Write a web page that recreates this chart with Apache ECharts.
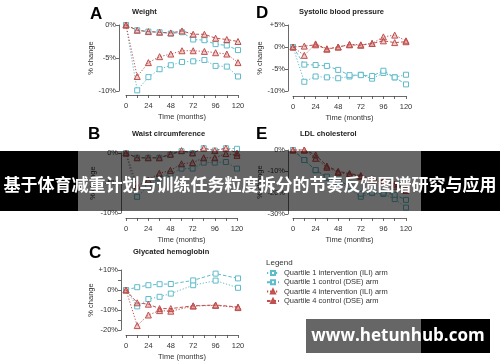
<!DOCTYPE html>
<html><head><meta charset="utf-8">
<script src="https://cdn.jsdelivr.net/npm/echarts@6/dist/echarts.min.js"></script>
<style>html,body{margin:0;padding:0;background:#fff;}#c{width:500px;height:362px;}</style>
</head><body><div id="c"></div>
<script>
// ---- data ----
const months = [0, 12, 24, 36, 48, 60, 72, 84, 96, 108, 120];
const monthsC = [0, 12, 24, 36, 48, 72, 96, 120];
const xTickLabels = [0, 24, 48, 72, 96, 120];
const seriesNames = ['Quartile 1 intervention (ILI) arm', 'Quartile 1 control (DSE) arm', 'Quartile 4 intervention (ILI) arm', 'Quartile 4 control (DSE) arm'];
const panelTitles = ['Weight', 'Systolic blood pressure', 'Waist circumference', 'LDL cholesterol', 'Glycated hemoglobin'];
const panelLetters = ['A', 'D', 'B', 'E', 'C'];

// A: Weight
const weightQ1ILI = [0, -9.9, -7.9, -6.7, -6.1, -5.6, -5.5, -5.3, -6.2, -6.3, -7.8];
const weightQ1DSE = [0, -0.8, -1.0, -1.1, -1.3, -1.1, -2.2, -2.3, -2.9, -3.1, -3.8];
const weightQ4ILI = [0, -7.8, -5.7, -4.8, -4.4, -3.9, -3.9, -4.0, -4.2, -4.4, -5.7];
const weightQ4DSE = [0, -0.8, -1.0, -1.1, -1.2, -0.9, -1.4, -1.4, -2.0, -2.2, -2.5];
// D: Systolic blood pressure
const sbpQ1ILI = [0, -7.9, -6.7, -6.9, -7.1, -6.7, -6.3, -7.2, -5.9, -6.9, -6.3];
const sbpQ1DSE = [0, -4.0, -4.1, -4.3, -5.2, -6.4, -6.4, -6.6, -5.4, -6.9, -8.5];
const sbpQ4ILI = [0, -1.9, 0.7, -0.4, 0.0, 0.6, 0.5, 0.8, 2.3, 2.7, 1.4];
const sbpQ4DSE = [0, 0.2, 0.5, -0.5, 0.0, 0.5, 0.4, 0.8, 1.4, 1.0, 1.2];
// B: Waist circumference
const waistQ1ILI = [0, -7.3, -5.5, -4.2, -3.5, -2.6, -2.6, -1.6, -1.6, -1.5, -2.6];
const waistQ1DSE = [0, -0.8, -0.8, -0.8, -0.3, 0.3, 0.0, 0.8, 0.4, 0.8, 0.7];
const waistQ4ILI = [0, -5.5, -4.5, -3.4, -2.9, -1.8, -1.6, -0.8, -0.8, -0.1, -0.4];
const waistQ4DSE = [0, -0.8, -0.8, -0.8, -0.2, 0.4, 0.0, 0.8, 0.4, 0.8, 0.0];
// E: LDL cholesterol
const ldlQ1ILI = [0, -4.7, -9.5, -13.0, -15.0, -18.0, -21.9, -20.0, -20.6, -23.0, -27.0];
const ldlQ1DSE = [0, -4.7, -9.4, -12.5, -14.0, -17.0, -20.5, -20.0, -20.0, -21.0, -23.4];
const ldlQ4ILI = [0, 0.0, -3.9, -8.1, -10.5, -11.5, -12.5, -14.0, -15.0, -17.0, -19.0];
const ldlQ4DSE = [0, 0.0, -2.3, -7.5, -10.0, -11.0, -12.0, -13.5, -14.5, -16.0, -18.0];
// C: Glycated hemoglobin
const hbaQ1ILI = [0, -8.2, -4.5, -3.4, -1.8, 2.4, 4.7, 1.1];
const hbaQ1DSE = [0, 1.4, 2.4, 2.9, 3.0, 4.8, 8.2, 5.8];
const hbaQ4ILI = [0, -17.8, -12.5, -10.3, -10.6, -8.0, -7.7, -8.8];
const hbaQ4DSE = [0, -6.4, -7.1, -9.3, -9.3, -7.9, -7.5, -8.5];

// ---- layout ----
const FONT = '"Liberation Sans", Arial, sans-serif';
const BLUE = '#5fbccb';
const RED = '#c0504d';
const panels = [
  {left: 126, top: 25, width: 112, height: 66, min: -10, max: 0, interval: 5, yOff: 7, xOff: 4, minor: false},
  {left: 293, top: 25, width: 113, height: 66, min: -10, max: 5, interval: 5, yOff: 5, xOff: 5, minor: false},
  {left: 126, top: 153, width: 111, height: 60, min: -10, max: 0, interval: 5, yOff: 5, xOff: 5, minor: false},
  {left: 293, top: 150, width: 113, height: 64, min: -30, max: 0, interval: 10, yOff: 5, xOff: 4, minor: false},
  {left: 126, top: 270, width: 112, height: 62, min: -20, max: 10, interval: 10, yOff: 5, xOff: 5, minor: true}
];
const panelData = [
  [months, weightQ1ILI, weightQ1DSE, weightQ4ILI, weightQ4DSE],
  [months, sbpQ1ILI, sbpQ1DSE, sbpQ4ILI, sbpQ4DSE],
  [months, waistQ1ILI, waistQ1DSE, waistQ4ILI, waistQ4DSE],
  [months, ldlQ1ILI, ldlQ1DSE, ldlQ4ILI, ldlQ4DSE],
  [monthsC, hbaQ1ILI, hbaQ1DSE, hbaQ4ILI, hbaQ4DSE]
];
const styles = [
  {color: BLUE, type: [1.2, 1.8], symbol: 'rect', fill: '#ffffff', size: 5},
  {color: BLUE, type: [3.5, 2], symbol: 'rect', fill: '#ffffff', size: 5},
  {color: RED, type: [1.2, 1.8], symbol: 'triangle', fill: 'rgba(192,80,77,0.28)', size: 6},
  {color: RED, type: [3.5, 2], symbol: 'triangle', fill: 'rgba(192,80,77,0.28)', size: 6}
];

const axisCol = '#444';
const grid = [], xAxis = [], yAxis = [], series = [];
panels.forEach((p, i) => {
  grid.push({left: p.left, top: p.top, width: p.width, height: p.height});
  xAxis.push({
    gridIndex: i, type: 'value', min: 0, max: 120, interval: 12, offset: p.xOff,
    axisLine: {show: true, onZero: false, lineStyle: {color: axisCol, width: 0.8}},
    axisTick: {show: true, length: 3, lineStyle: {color: axisCol, width: 0.8}},
    axisLabel: {formatter: v => xTickLabels.indexOf(v) >= 0 ? String(v) : '', fontSize: 7.5, color: '#333', margin: 7, fontFamily: FONT},
    splitLine: {show: false},
    name: 'Time (months)', nameLocation: 'middle', nameGap: 18,
    nameTextStyle: {fontSize: 7.5, color: '#333', fontFamily: FONT}
  });
  yAxis.push({
    gridIndex: i, type: 'value', min: p.min, max: p.max, interval: p.interval, offset: p.yOff,
    axisLine: {show: true, onZero: false, lineStyle: {color: axisCol, width: 0.8}},
    axisTick: {show: true, length: 3, lineStyle: {color: axisCol, width: 0.8}},
    minorTick: {show: p.minor, splitNumber: 2, length: 3, lineStyle: {color: axisCol, width: 0.8}},
    axisLabel: {formatter: v => (v > 0 ? '+' : '') + v + '%', fontSize: 7.5, color: '#333', margin: 3, fontFamily: FONT},
    splitLine: {show: false},
    name: '% change', nameLocation: 'middle', nameGap: 22, nameRotate: 90,
    nameTextStyle: {fontSize: 7.5, color: '#333', fontFamily: FONT}
  });
  const d = panelData[i];
  for (let s = 0; s < 4; s++) {
    const st = styles[s];
    series.push({
      type: 'line', name: seriesNames[s], xAxisIndex: i, yAxisIndex: i,
      data: d[0].map((x, k) => [x, d[s + 1][k]]),
      clip: false, symbol: st.symbol, symbolSize: st.size, showSymbol: true,
      lineStyle: {color: st.color, width: 1, type: st.type},
      itemStyle: {color: st.fill, borderColor: st.color, borderWidth: 1},
      emphasis: {disabled: true}, animation: false, z: 2 + s
    });
  }
});

const letterPos = [[90, 15], [256, 14], [88, 135], [256, 135], [89, 254]];
const titlePos = [[132, 12], [299, 12], [132, 134], [300, 134], [133, 252]];
const graphic = [];
panelLetters.forEach((L, i) => {
  graphic.push({type: 'text', left: letterPos[i][0], top: letterPos[i][1] - 9, z: 10,
    style: {text: L, font: 'bold 17px ' + FONT, fill: '#000'}});
  graphic.push({type: 'text', left: titlePos[i][0], top: titlePos[i][1] - 4.5, z: 10,
    style: {text: panelTitles[i], font: 'bold 7.5px ' + FONT, fill: '#222'}});
});
graphic.push({type: 'text', left: 266, top: 259, z: 10, style: {text: 'Legend', font: '8px ' + FONT, fill: '#333'}});
// banner overlay
graphic.push({type: 'rect', shape: {x: 0, y: 151, width: 78, height: 60}, style: {fill: '#000'}, z: 100});
graphic.push({type: 'rect', shape: {x: 78, y: 151, width: 343, height: 60}, style: {fill: 'rgba(0,0,0,0.6)'}, z: 100});
graphic.push({type: 'rect', shape: {x: 421, y: 151, width: 79, height: 60}, style: {fill: '#000'}, z: 100});
graphic.push({type: 'text', x: 250, y: 185, z: 101,
  style: {text: '基于体育减重计划与训练任务粒度拆分的节奏反馈图谱研究与应用', font: 'bold 17px "Noto Sans CJK SC", sans-serif', fill: '#fff', textAlign: 'center', textVerticalAlign: 'middle'}});
// watermark
graphic.push({type: 'rect', shape: {x: 306, y: 319, width: 115, height: 34}, style: {fill: 'rgba(0,0,0,0.6)'}, z: 100});
graphic.push({type: 'rect', shape: {x: 421, y: 319, width: 69, height: 34}, style: {fill: '#000'}, z: 100});
graphic.push({type: 'text', x: 398, y: 336, z: 101,
  style: {text: 'www.hetunhub.com', font: 'bold 17px "Open Sans", "Liberation Sans", sans-serif', fill: '#fff', textAlign: 'center', textVerticalAlign: 'middle'}});

const chart = echarts.init(document.getElementById('c'), null, {renderer: 'canvas'});
chart.setOption({
  animation: false,
  backgroundColor: '#fff',
  grid, xAxis, yAxis, series, graphic,
  legend: {
    data: seriesNames, orient: 'vertical', left: 266, top: 269, padding: 0,
    itemWidth: 12, itemHeight: 5, itemGap: 1.3, selectedMode: false,
    textStyle: {fontSize: 7.5, color: '#333', fontFamily: FONT, lineHeight: 6}
  }
});
</script></body></html>
